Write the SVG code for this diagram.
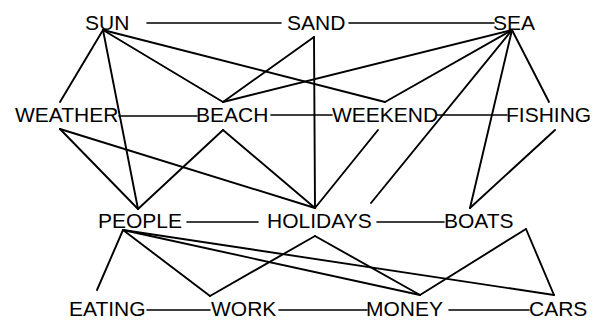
<svg xmlns="http://www.w3.org/2000/svg" width="604" height="321" viewBox="0 0 604 321">
<style>
text{font-family:"Liberation Sans",Arial,sans-serif;font-size:21px;fill:#000}
#connectors line{stroke:#000;stroke-width:1.9;stroke-linecap:round}
#connectors line.h{stroke-width:1.6}
</style>
<rect width="604" height="321" fill="#fff"/>
<g id="connectors">
<line class="h" x1="147" y1="23" x2="281" y2="23"/>
<line class="h" x1="349" y1="23" x2="494" y2="23"/>
<line class="h" x1="119" y1="116" x2="197" y2="116"/>
<line class="h" x1="271" y1="115" x2="332" y2="115"/>
<line class="h" x1="437" y1="115" x2="507" y2="115"/>
<line class="h" x1="187" y1="222" x2="258" y2="222"/>
<line class="h" x1="377" y1="222" x2="444" y2="222"/>
<line class="h" x1="147" y1="310" x2="210" y2="310"/>
<line class="h" x1="279" y1="310" x2="367" y2="310"/>
<line class="h" x1="449" y1="310" x2="529" y2="310"/>
<line x1="103" y1="30" x2="60" y2="102"/>
<line x1="103" y1="30" x2="138" y2="209"/>
<line x1="103" y1="30" x2="223" y2="102"/>
<line x1="103" y1="30" x2="385" y2="102"/>
<line x1="314" y1="37" x2="223" y2="102"/>
<line x1="314" y1="37" x2="315" y2="208"/>
<line x1="512" y1="30" x2="223" y2="102"/>
<line x1="512" y1="30" x2="385" y2="102"/>
<line x1="512" y1="30" x2="371" y2="203"/>
<line x1="512" y1="30" x2="470" y2="208"/>
<line x1="512" y1="30" x2="549" y2="102"/>
<line x1="555" y1="130" x2="470" y2="208"/>
<line x1="378" y1="130" x2="315" y2="208"/>
<line x1="223" y1="130" x2="315" y2="208"/>
<line x1="223" y1="130" x2="138" y2="209"/>
<line x1="60" y1="129" x2="138" y2="209"/>
<line x1="60" y1="129" x2="315" y2="208"/>
<line x1="123" y1="230" x2="97" y2="290"/>
<line x1="123" y1="230" x2="210" y2="296"/>
<line x1="123" y1="230" x2="420" y2="295"/>
<line x1="123" y1="230" x2="554" y2="295"/>
<line x1="315" y1="236" x2="210" y2="296"/>
<line x1="315" y1="236" x2="420" y2="295"/>
<line x1="526" y1="229" x2="420" y2="295"/>
<line x1="526" y1="229" x2="554" y2="295"/>
</g>
<g id="sun"><text x="85" y="30">SUN</text></g>
<g id="sand"><text x="287" y="30">SAND</text></g>
<g id="sea"><text x="493" y="30">SEA</text></g>
<g id="weather"><text x="15" y="122">WEATHER</text></g>
<g id="beach"><text x="196" y="122">BEACH</text></g>
<g id="weekend"><text x="332" y="122">WEEKEND</text></g>
<g id="fishing"><text x="506" y="122">FISHING</text></g>
<g id="people"><text x="98" y="228">PEOPLE</text></g>
<g id="holidays"><text x="267" y="228">HOLIDAYS</text></g>
<g id="boats"><text x="444" y="228">BOATS</text></g>
<g id="eating"><text x="69" y="316">EATING</text></g>
<g id="work"><text x="211" y="316">WORK</text></g>
<g id="money"><text x="366" y="316">MONEY</text></g>
<g id="cars"><text x="529" y="316">CARS</text></g>
</svg>
